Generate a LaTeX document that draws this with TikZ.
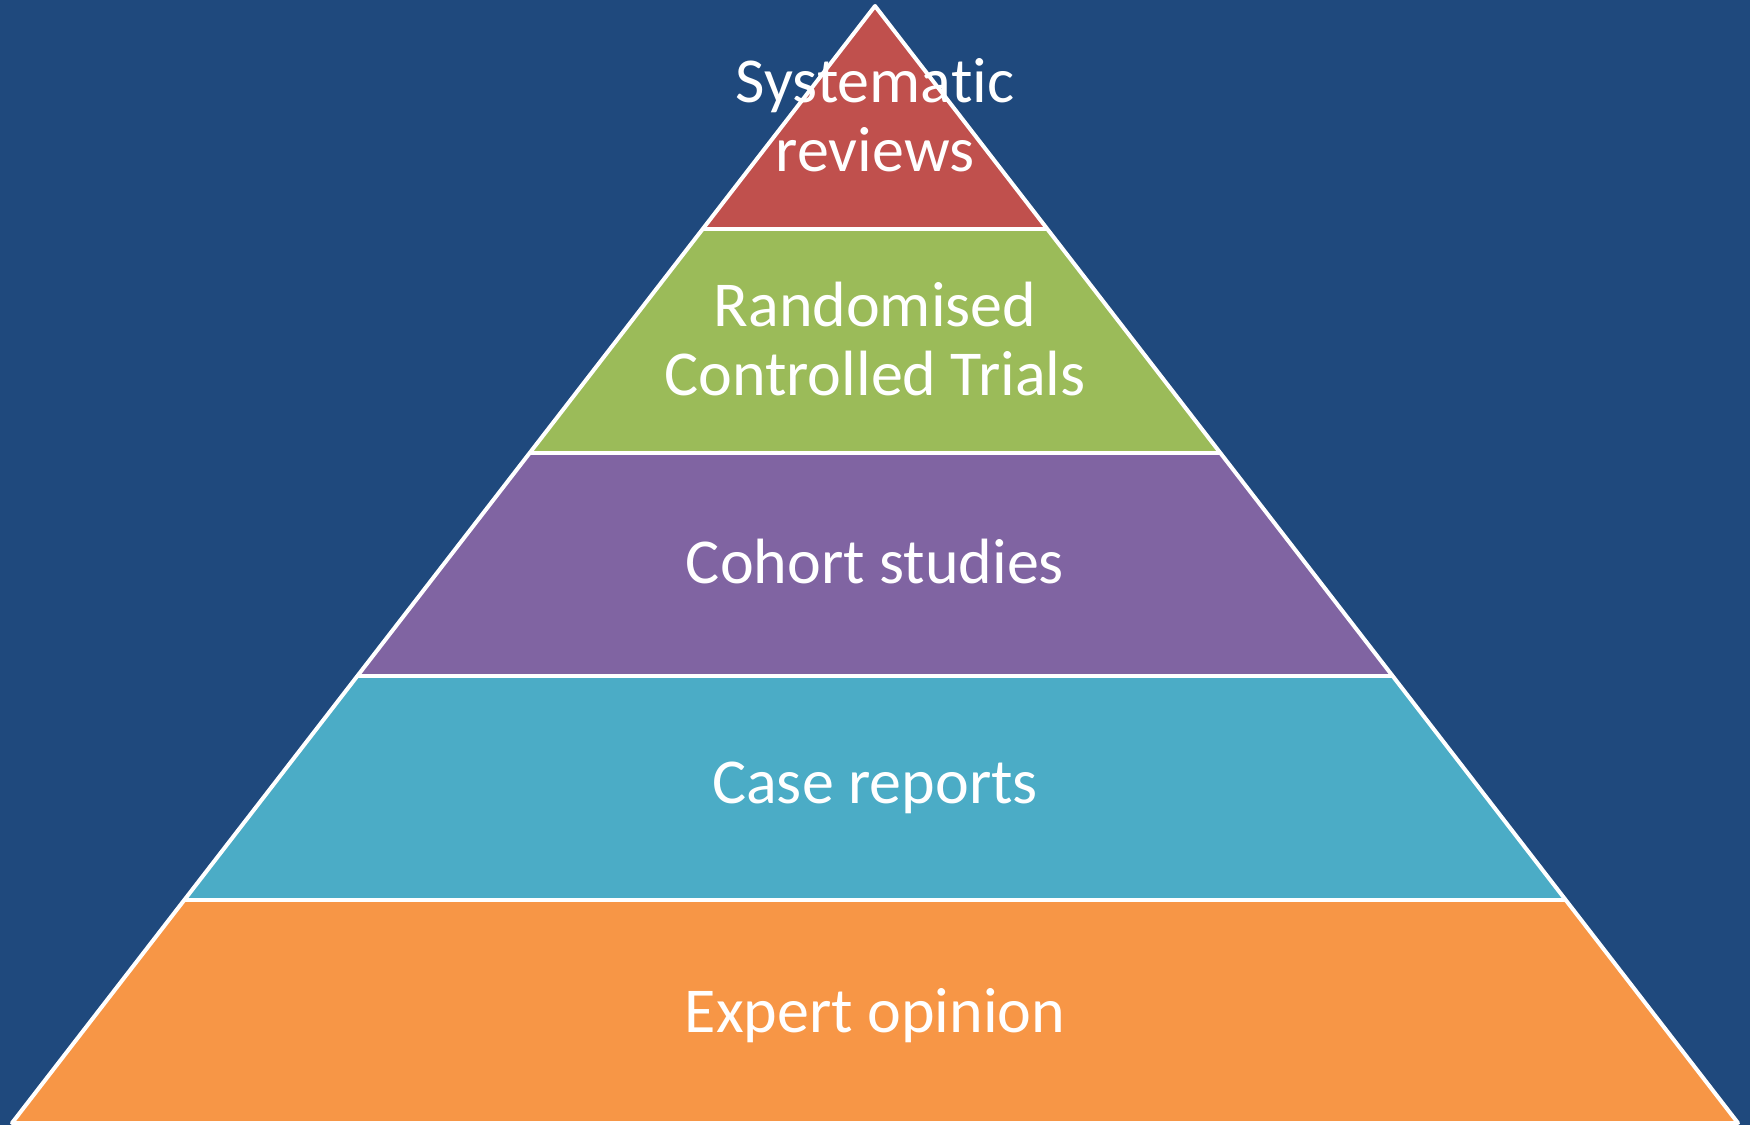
\documentclass[tikz,border=0pt]{standalone}
\usepackage{fontspec}
\setmainfont{Carlito}[Ligatures=NoCommon]
\usetikzlibrary{calc}
\definecolor{bgblue}{HTML}{1F497D}
\definecolor{tierred}{HTML}{C0504D}
\definecolor{tiergreen}{HTML}{9BBB59}
\definecolor{tierpurple}{HTML}{8064A2}
\definecolor{tieraqua}{HTML}{4BACC6}
\definecolor{tierorange}{HTML}{F79646}
\begin{document}
\begin{tikzpicture}[x=1pt,y=-1pt,
  outline/.style={draw=white,line width=4pt,line join=round},
  lbl/.style={text=white,font=\fontsize{64}{69}\selectfont,align=center,anchor=base,inner sep=0pt}]
\fill[bgblue] (0,0) rectangle (1750,1125);
\useasboundingbox (0,0) rectangle (1750,1125);
\coordinate (apex) at (875,6);
\coordinate (l5) at (12,1123);
\coordinate (r5) at (1738,1123);
\foreach \i in {1,...,4}{
  \coordinate (l\i) at ($(apex)!\i/5!(l5)$);
  \coordinate (r\i) at ($(apex)!\i/5!(r5)$);
}
\fill[tierred] (apex) -- (l1) -- (r1) -- cycle;
\fill[tiergreen] (l1) -- (l2) -- (r2) -- (r1) -- cycle;
\fill[tierpurple] (l2) -- (l3) -- (r3) -- (r2) -- cycle;
\fill[tieraqua] (l3) -- (l4) -- (r4) -- (r3) -- cycle;
\fill[tierorange] (l4) -- (l5) -- (r5) -- (r4) -- cycle;
\draw[outline] (apex) -- (l5) -- (r5) -- cycle;
\foreach \i in {1,...,4}{
  \draw[outline] (l\i) -- (r\i);
}
\node[lbl] (t1) at (875,171) {Systematic\\reviews};
\node[lbl] (t2) at (875,395) {Randomised\\Controlled Trials};
\node[lbl] (t3) at (875,583) {Cohort studies};
\node[lbl] (t4) at (875,803) {Case reports};
\node[lbl] (t5) at (875,1032) {Expert opinion};
\end{tikzpicture}
\end{document}
